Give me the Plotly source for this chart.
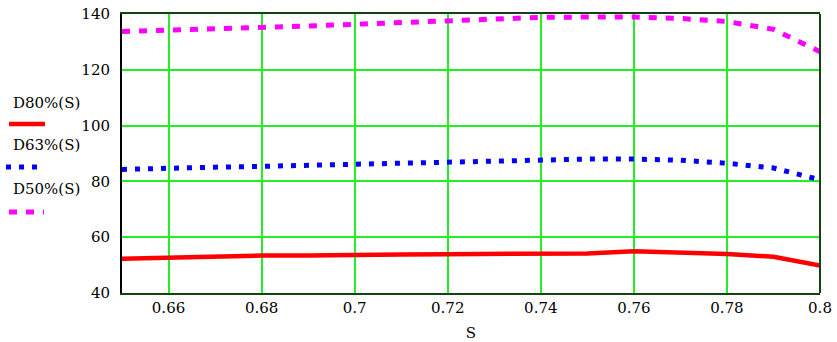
import plotly.graph_objects as go

S = [0.65, 0.66, 0.67, 0.68, 0.69, 0.70, 0.71, 0.72, 0.73, 0.74, 0.75, 0.76, 0.77, 0.78, 0.79, 0.80]
D80 = [52.3, 52.8, 53.0, 53.4, 53.4, 53.4, 53.8, 53.9, 54.1, 54.2, 54.2, 55.0, 54.6, 54.0, 53.0, 49.8]
D63 = [84.3, 84.9, 85.1, 85.4, 85.8, 86.3, 86.7, 87.0, 87.5, 88.0, 88.0, 88.0, 87.6, 86.5, 84.8, 80.6]
D50 = [133.7, 134.1, 134.6, 135.1, 135.7, 136.3, 136.9, 137.6, 138.1, 138.8, 138.9, 138.9, 138.4, 137.3, 134.5, 126.5]

x_ticks = [0.66, 0.68, 0.70, 0.72, 0.74, 0.76, 0.78, 0.80]
x_ticktext = ["0.66", "0.68", "0.7", "0.72", "0.74", "0.76", "0.78", "0.8"]
y_ticks = [40, 60, 80, 100, 120, 140]
series_names = ["D80%(S)", "D63%(S)", "D50%(S)"]

FONT = "DejaVu Serif, serif"
FS = 15
GRID = "#22f022"
FRAME = "#114411"

fig = go.Figure()
fig.add_trace(go.Scatter(x=S, y=D80, mode="lines", name=series_names[0],
                         line=dict(color="#ff0000", width=4.5)))
fig.add_trace(go.Scatter(x=S, y=D63, mode="lines", name=series_names[1],
                         line=dict(color="#0000ff", width=5, dash="5px,8px")))
fig.add_trace(go.Scatter(x=S, y=D50, mode="lines", name=series_names[2],
                         line=dict(color="#ff00ff", width=5, dash="8px,9px")))

W, H = 837, 342
L, R, T, B = 122, 17, 14, 49
pw, ph = W - L - R, H - T - B

def px(xp):
    return (xp - L) / pw

def py(yp):
    return (H - B - yp) / ph

shapes = [
    dict(type="line", xref="paper", yref="paper", x0=1, x1=1, y0=0, y1=1,
         line=dict(color=FRAME, width=2)),
    dict(type="line", xref="paper", yref="paper", x0=px(9), x1=px(45), y0=py(124), y1=py(124),
         line=dict(color="#ff0000", width=4.5)),
    dict(type="line", xref="paper", yref="paper", x0=px(6), x1=px(37), y0=py(167), y1=py(167),
         line=dict(color="#0000ff", width=5, dash="5px,8px")),
    dict(type="line", xref="paper", yref="paper", x0=px(9), x1=px(44), y0=py(212), y1=py(212),
         line=dict(color="#ff00ff", width=5, dash="8px,9px")),
]

annotations = []
for name, ypix in zip(series_names, [103, 145, 189]):
    annotations.append(dict(text=name, xref="paper", yref="paper", x=px(11), y=py(ypix),
                            xanchor="left", yanchor="middle", showarrow=False,
                            font=dict(family=FONT, size=FS, color="#000000")))

fig.update_layout(
    width=W, height=H, autosize=False,
    margin=dict(l=L, r=R, t=T, b=B, pad=0, autoexpand=False),
    paper_bgcolor="white", plot_bgcolor="white",
    showlegend=False,
    font=dict(family=FONT, size=FS, color="#000000"),
    shapes=shapes,
    annotations=annotations,
    xaxis=dict(range=[0.65, 0.80], tickvals=x_ticks, ticktext=x_ticktext,
               showgrid=True, gridcolor=GRID, gridwidth=1.5,
               showline=True, linecolor=FRAME, linewidth=2, mirror=True,
               zeroline=False, ticks="", ticklen=0, ticklabelstandoff=0, automargin=False,
               tickfont=dict(family=FONT, size=FS),
               title=dict(text="S", standoff=21, font=dict(family=FONT, size=FS))),
    yaxis=dict(range=[40, 140], tickvals=y_ticks,
               showgrid=True, gridcolor=GRID, gridwidth=1.5,
               showline=True, linecolor="#000000", linewidth=2, mirror=False,
               zeroline=False, ticks="", ticklen=0, ticklabelstandoff=7, automargin=False,
               tickfont=dict(family=FONT, size=FS)),
)

fig.write_html("out.html", config={"displayModeBar": False},
               post_script="document.body.style.margin='0';document.body.style.overflow='hidden';")
